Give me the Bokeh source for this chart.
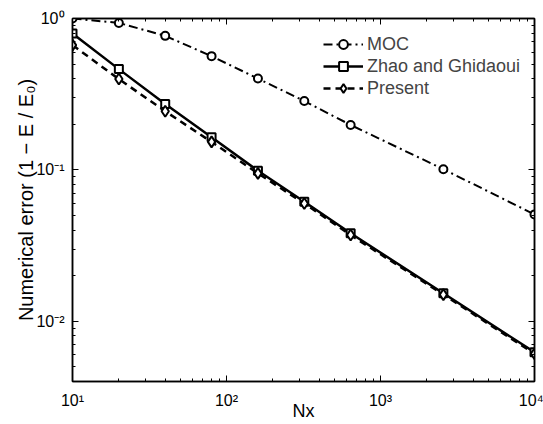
import numpy as np
from bokeh.plotting import figure
from bokeh.models import (Range1d, LogAxis, FixedTicker, Legend, LegendItem)
from bokeh.embed import file_html
from bokeh.resources import INLINE

# ---- data ----
nx = [10, 20, 40, 80, 160, 320, 640, 2560, 10000]
moc = [1.0, 0.935, 0.768, 0.564, 0.401, 0.285, 0.198, 0.101, 0.0508]
zhao = [0.796, 0.463, 0.272, 0.164, 0.0986, 0.0616, 0.0381, 0.0153, 0.00624]
present = [0.667, 0.398, 0.244, 0.153, 0.0948, 0.060, 0.0371, 0.0150, 0.0061]

x_major = [10, 100, 1000, 10000]
x_labels = ["10¹", "10²", "10³", "10⁴"]
y_major = [0.01, 0.1, 1]
y_labels = ["10⁻²", "10⁻¹", "10⁰"]

FONT = "Liberation Sans"

x_minor = [m * d for d in [10, 100, 1000] for m in range(2, 10)]
y_minor = [m * d for d in [0.001, 0.01, 0.1] for m in range(2, 10) if m * d >= 0.004]

p = figure(width=543, height=424, x_axis_type="log", y_axis_type="log",
           x_range=Range1d(10, 10000), y_range=Range1d(0.004, 1.0),
           output_backend="svg", toolbar_location=None,
           min_border_left=72, min_border_right=9, min_border_top=18,
           min_border_bottom=43)
p.background_fill_color = "white"
p.border_fill_color = "white"
p.grid.visible = False
p.outline_line_color = "black"
p.outline_line_width = 1.5

xt = FixedTicker(ticks=x_major, minor_ticks=x_minor)
yt = FixedTicker(ticks=y_major, minor_ticks=y_minor)


def style(ax, labels=None, ticks=None):
    ax.axis_line_color = "black"
    ax.axis_line_width = 1.5
    ax.major_tick_in = 6
    ax.major_tick_out = 0
    ax.minor_tick_in = 3
    ax.minor_tick_out = 0
    ax.major_tick_line_color = "black"
    ax.minor_tick_line_color = "black"
    ax.major_label_text_font = FONT
    ax.major_label_text_font_size = "16px"
    ax.major_label_text_color = "black"
    ax.axis_label_text_font = FONT
    ax.axis_label_text_font_size = "18px"
    ax.axis_label_text_font_style = "normal"
    ax.axis_label_text_color = "black"
    if labels is not None:
        ax.major_label_overrides = {k: v for k, v in zip(ticks, labels)}


p.xaxis.ticker = xt
p.yaxis.ticker = yt
style(p.xaxis[0], x_labels, x_major)
style(p.yaxis[0], y_labels, y_major)
p.xaxis.axis_label = "Nx"
p.yaxis.axis_label = "Numerical error (1 − E / E₀)"
p.yaxis.axis_label_text_font_size = "20px"
p.xaxis.major_label_standoff = 10
p.yaxis.major_label_standoff = 8
p.xaxis.axis_label_standoff = -11
p.yaxis.axis_label_standoff = -4

top_ax = LogAxis(ticker=xt)
right_ax = LogAxis(ticker=yt)
for ax in (top_ax, right_ax):
    style(ax)
    ax.major_label_text_font_size = "1px"
    ax.major_label_text_alpha = 0
    ax.major_label_standoff = 0
p.add_layout(top_ax, "above")
p.add_layout(right_ax, "right")

r1l = p.line(nx, moc, line_color="black", line_width=2, line_dash="9 4 2 4")
r1m = p.scatter(nx, moc, marker="circle", size=8, fill_color="white",
                line_color="black", line_width=2)
r2l = p.line(nx, zhao, line_color="black", line_width=2.5)
r2m = p.scatter(nx, zhao, marker="square", size=8, fill_color="white",
                line_color="black", line_width=2)
r3l = p.line(nx, present, line_color="black", line_width=2.5, line_dash="7 5")
r3m = p.scatter(nx, present, marker="diamond", size=11, fill_color="white",
                line_color="black", line_width=2)

legend = Legend(items=[
    LegendItem(label="MOC", renderers=[r1l, r1m]),
    LegendItem(label="Zhao and Ghidaoui", renderers=[r2l, r2m]),
    LegendItem(label="Present", renderers=[r3l, r3m]),
], location=(251, 282))
legend.border_line_color = None
legend.background_fill_alpha = 0
legend.label_text_font = FONT
legend.label_text_font_size = "18px"
legend.glyph_width = 40
legend.glyph_height = 22
legend.label_height = 22
legend.spacing = 0
legend.padding = 5
legend.margin = 0
legend.label_standoff = 4
p.add_layout(legend)

open("out.html", "w").write(file_html(p, INLINE))
